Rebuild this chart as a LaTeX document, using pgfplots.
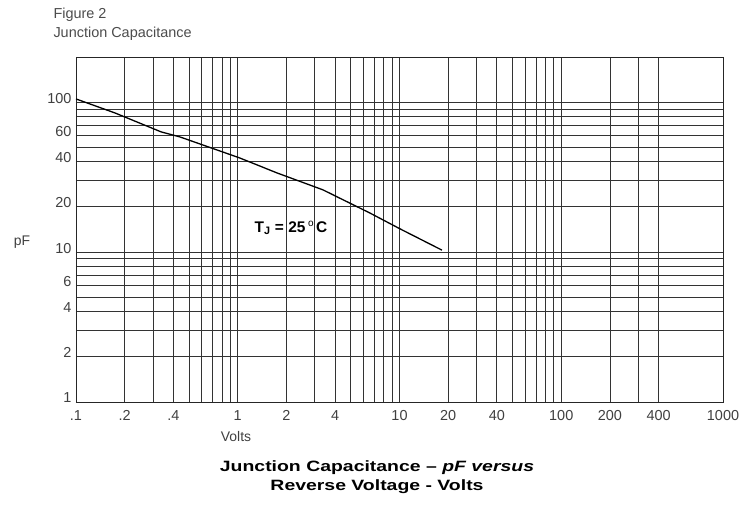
\documentclass[border=0pt]{standalone}
\usepackage{pgfplots}
\pgfplotsset{compat=1.18}
\usepackage{fontspec}
\setmainfont{Liberation Sans}
\newfontfamily\capfont[FakeStretch=1.3]{Liberation Sans}
\begin{document}
\begin{tikzpicture}[x=1bp,y=1bp]
\path[use as bounding box] (0,0) rectangle (753,515);
\begin{axis}[
  at={(76bp,113bp)}, anchor=south west,
  scale only axis, width=647bp, height=345bp,
  xmode=log, ymode=log,
  xmin=0.1, xmax=1000, ymin=1, ymax=200,
  xtick={0.1,0.2,0.4,1,2,4,10,20,40,100,200,400,1000},
  xticklabels={.1,.2,.4,1,2,4,10,20,40,100,200,400,1000},
  ytick={1,2,4,6,10,20,40,60,100},
  yticklabels={1,2,4,6,10,20,40,60,100},
  minor xtick={0.3,0.5,0.6,0.7,0.8,0.9,3,5,6,7,8,9,30,50,60,70,80,90,300},
  minor ytick={3,5,7,8,9,30,50,70,80,90},
  grid=both,
  major grid style={black!80, line width=0.9bp},
  minor grid style={black!80, line width=0.9bp},
  major tick length=0pt, minor tick length=0pt,
  axis line style={black!85, line width=0.9bp},
  tick label style={font=\fontsize{14.5}{16}\selectfont, text=black!75},
  /pgf/number format/assume math mode=true,
  xticklabel style={yshift=-5bp},
  yticklabel style={yshift=4bp, xshift=-1bp},
]
\addplot[black, line width=1.3bp] coordinates {
  (0.1,105) (0.174,84.7) (0.336,63.3) (0.439,58.6) (1.03,42.4) (1.75,33.7) (3.36,26.0) (6.57,18.2) (10.05,14.3) (18.3,10.3)
};
\end{axis}
\node[anchor=west, text=black!70, font=\fontsize{14.5}{16}\selectfont] at (50,500) {Figure 2};
\node[anchor=west, text=black!70, font=\fontsize{14.5}{16}\selectfont] at (50,481) {Junction Capacitance};
\node[text=black!75, font=\fontsize{14}{16}\selectfont] at (22,273) {pF};
\node[text=black!75, font=\fontsize{14}{16}\selectfont] at (236,78) {Volts};
\node[text=black, font=\fontsize{15.5}{18}\selectfont\bfseries] at (291,287) {T\textsubscript{J} = 25\,\raisebox{0.4em}{\fontsize{10}{10}\selectfont\mdseries o}\,C};
\node[text=black, font=\capfont\fontsize{15}{18}\selectfont\bfseries] at (377,47) {Junction Capacitance – \textit{pF versus}};
\node[text=black, font=\capfont\fontsize{15}{18}\selectfont\bfseries] at (377,28) {Reverse Voltage - Volts};
\end{tikzpicture}
\end{document}
